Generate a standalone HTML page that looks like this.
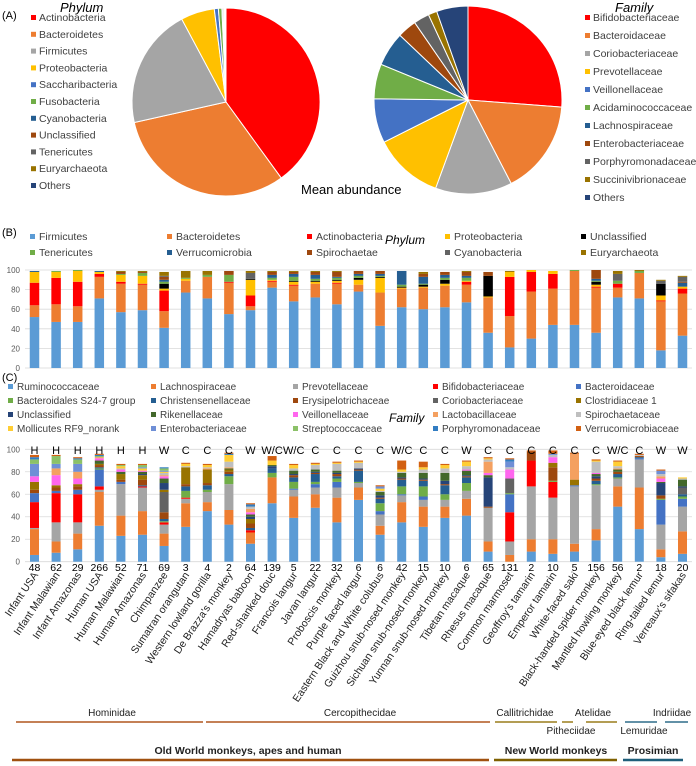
<!DOCTYPE html>
<html><head><meta charset="utf-8"><style>
html,body{margin:0;padding:0;background:#fff}
svg{display:block;font-family:"Liberation Sans",sans-serif}
</style></head><body>
<svg id="fig" width="696" height="766" viewBox="0 0 696 766" xmlns="http://www.w3.org/2000/svg">
<text x="2" y="19" font-size="11">(A)</text>
<text x="60" y="12" font-size="13" font-style="italic">Phylum</text>
<text x="615" y="12" font-size="13" font-style="italic">Family</text>
<text x="301" y="194" font-size="13">Mean abundance</text>
<text x="2" y="236" font-size="11">(B)</text>
<text x="385" y="244" font-size="12" font-style="italic">Phylum</text>
<text x="2" y="381" font-size="11">(C)</text>
<text x="389" y="422" font-size="12" font-style="italic">Family</text>
<g id="gPies"></g><g id="gB"></g><g id="gC"></g><g id="gTax"></g>
</svg>
<script>
const NS="http://www.w3.org/2000/svg";
function mk(tag,attrs,parent){const e=document.createElementNS(NS,tag);for(const k in attrs)e.setAttribute(k,attrs[k]);parent.appendChild(e);return e;}

// ---- Pie data ----
const phylumNames=["Actinobacteria","Bacteroidetes","Firmicutes","Proteobacteria","Saccharibacteria","Fusobacteria","Cyanobacteria","Unclassified","Tenericutes","Euryarchaeota","Others"];
const phylumShares=[0.40,0.315,0.207,0.058,0.007,0.006,0.002,0.002,0.001,0.001,0.001];
const phylumPieColors=["#ff0000","#ed7d31","#a5a5a5","#ffc000","#4472c4","#70ad47","#255e91","#9e480e","#636363","#997300","#264478"];
const familyNames=["Bifidobacteriaceae","Bacteroidaceae","Coriobacteriaceae","Prevotellaceae","Veillonellaceae","Acidaminococcaceae","Lachnospiraceae","Enterobacteriaceae","Porphyromonadaceae","Succinivibrionaceae","Others"];
const familyShares=[0.262,0.162,0.132,0.12,0.076,0.06,0.059,0.033,0.027,0.015,0.054];
const familyPieColors=["#ff0000","#ed7d31","#a5a5a5","#ffc000","#4472c4","#70ad47","#255e91","#9e480e","#636363","#997300","#264478"];

// ---- Panel B data ----
const categories=["Infant USA","Infant Malawian","Infant Amazonas","Human USA","Human Malawian","Human Amazonas","Chimpanzee","Sumatran orangutan","Western lowland gorilla","De Brazza's monkey","Hamadryas baboon","Red-shanked douc","Francois langur","Javan langur","Proboscis monkey","Purple faced langur","Eastern Black and White colubus","Guizhou snub-nosed monkey","Sichuan snub-nosed monkey","Yunnan snub-nosed monkey","Tibetan macaque","Rhesus macaque","Common marmoset","Geoffroy's tamarin","Emperor tamarin","White-faced saki","Black-handed spider monkey","Mantled howling monkey","Blue-eyed black lemur","Ring-tailed lemur","Verreaux's sifakas"];
const sampleCounts=["48","62","29","266","52","71","69","3","4","2","64","139","5","22","32","6","6","42","15","10","6","65","131","2","10","5","156","56","2","18","20"];
const dietLetters=["H","H","H","H","H","H","W","C","C","C","W","W/C","W/C","C","C","C","C","W/C","C","C","W","C","C","C","C","C","C","W/C","C","W","W"];
const yTicks=[0,20,40,60,80,100];
const phylaB=["Firmicutes","Bacteroidetes","Actinobacteria","Proteobacteria","Unclassified","Tenericutes","Verrucomicrobia","Spirochaetae","Cyanobacteria","Euryarchaeota"];
const colorsB=["#5b9bd5","#ed7d31","#ff0000","#ffc000","#000000","#70ad47","#255e91","#9e480e","#636363","#997300"];
const firm=[52,47,47,71,57,59,41,77,71,55,59,82,68,72,65,78,43,62,60,62,67,36,21,30,44,44,36,72,71,18,33];
const bact=[12,18,16,22,29,26,17,12,22,32,4,6,16,14,21,7,34,19,22,22,18,36,32,48,37,55,46,10,26,50,43];
const actino=[23,27,25,3,2,1,21,0,0,1,11,1,1,0,1,0,0,0,0,0,3,0,40,20,15,0,1,4,0,1,5];
const proteo=[11,6,11,2,7,8,2,2,0,0,16,1,3,2,2,5,15,1,1,2,1,1,5,2,3,0,2,0,0,5,2];
const unclassP=[0,0,0,0,0,0,5,0,0,0,1,0,1,1,1,2,1,1,2,4,0,21,0,0,0,0,3,0,0,12,0];
const teneri=[0,1,1,0,1,3,2,1,2,7,0,2,4,2,2,2,1,2,1,2,3,0,0,0,0,1,1,3,2,0,0];
const verruco=[1,0,0,1,0,0,2,0,0,0,0,3,3,4,1,2,2,14,7,3,2,0,0,0,0,0,2,0,0,0,4];
const spiro=[0,0,0,0,2,1,3,0,0,4,0,3,2,3,5,3,3,0,3,3,4,4,0,0,0,0,9,0,0,0,1];
const cyano=[0,0,0,0,0,0,1,0,0,0,6,0,0,0,0,0,0,0,0,0,0,0,0,0,0,0,0,7,0,3,5];
const eury=[0,0,0,0,1,1,4,7,4,0,2,1,1,1,1,0,0,0,2,0,1,0,1,0,0,0,0,3,1,1,1];
const seriesB=[firm,bact,actino,proteo,unclassP,teneri,verruco,spiro,cyano,eury];

// ---- Panel C data ----
const familiesC=["Ruminococcaceae","Lachnospiraceae","Prevotellaceae","Bifidobacteriaceae","Bacteroidaceae","Bacteroidales S24-7 group","Christensenellaceae","Erysipelotrichaceae","Coriobacteriaceae","Clostridiaceae 1","Unclassified","Rikenellaceae","Veillonellaceae","Lactobacillaceae","Spirochaetaceae","Mollicutes RF9_norank","Enterobacteriaceae","Streptococcaceae","Porphyromonadaceae","Verrucomicrobiaceae"];
const colorsC=["#5b9bd5","#ed7d31","#a5a5a5","#ff0000","#4472c4","#70ad47","#255e91","#9e480e","#636363","#997300","#264478","#43682b","#ff66ee","#f4a060","#bfbfbf","#ffcd33","#6f8fd6","#8cc168","#327dc2","#d26012"];
const rum=[6,8,11,32,23,24,14,31,45,33,16,52,39,48,35,55,24,35,31,39,41,9,0,9,7,9,19,49,29,4,7];
const lach=[23,10,14,30,18,21,11,21,8,13,10,23,19,12,22,11,8,18,18,10,15,9,6,11,13,7,10,18,37,7,20];
const prev=[1,17,10,2,28,21,8,4,9,23,0,0,6,6,9,4,10,6,6,6,7,30,12,47,37,51,39,7,25,22,22];
const bif=[23,26,25,3,0,1,2,1,0,0,2,0,0,0,0,0,0,0,0,0,0,0,26,23,14,0,0,0,0,0,0];
const bac=[8,2,4,15,2,0,0,0,0,0,0,0,1,3,5,0,3,1,3,0,0,0,16,0,0,1,0,0,1,22,7];
const s24=[0,0,0,1,0,0,1,6,2,7,0,4,6,2,3,1,7,7,9,5,7,0,1,0,1,0,1,1,0,1,2];
const chr=[0,0,0,1,0,1,2,4,4,2,2,4,4,7,2,10,4,6,5,8,5,0,0,0,0,0,3,3,1,0,2];
const ery=[3,3,3,2,2,5,6,2,2,2,4,0,2,1,2,1,1,1,1,1,1,1,0,8,12,0,2,2,1,3,0];
const cor=[0,0,0,0,0,0,18,0,0,0,0,0,0,0,0,0,0,0,0,0,0,0,13,0,0,0,0,0,0,0,6];
const clo=[7,2,2,1,5,4,2,15,12,2,4,0,0,0,0,0,0,0,0,0,0,0,0,0,4,5,0,0,0,0,0];
const uncF=[0,0,0,0,0,1,6,0,0,0,2,2,1,1,1,1,2,1,1,3,1,26,0,0,0,0,2,0,0,11,1];
const rik=[0,0,0,3,2,2,4,0,0,1,2,1,3,2,2,0,3,4,5,7,4,2,0,0,0,0,2,2,0,1,6];
const vei=[5,9,5,2,2,1,2,0,0,0,2,0,0,0,0,0,0,0,0,0,1,2,8,0,5,0,1,0,0,3,0];
const lac=[0,6,6,1,0,0,1,0,1,1,3,0,0,0,0,0,0,0,0,0,0,10,0,0,0,23,0,1,0,2,0];
const spi=[0,0,0,0,1,0,2,1,1,5,2,0,2,4,6,5,1,1,3,4,3,2,2,0,2,0,10,2,1,2,1];
const mol=[0,0,0,0,2,2,1,2,2,6,0,4,3,1,1,1,2,2,2,3,4,1,0,0,0,0,1,4,0,0,1];
const ent=[11,4,7,0,0,1,1,0,0,0,0,0,0,0,0,0,2,0,0,0,0,0,5,0,1,0,0,0,0,3,0];
const str=[4,7,4,1,1,2,2,0,0,0,0,0,0,0,0,0,0,0,0,0,0,0,0,0,0,0,0,0,0,0,0];
const por=[2,0,1,1,0,0,1,0,0,1,2,0,0,0,0,0,0,0,0,0,0,0,2,0,0,0,0,0,0,0,0];
const ver=[2,1,1,1,1,1,0,1,1,1,1,4,1,1,1,1,1,8,5,1,1,1,1,1,3,1,1,1,1,1,0];
const seriesC=[rum,lach,prev,bif,bac,s24,chr,ery,cor,clo,uncF,rik,vei,lac,spi,mol,ent,str,por,ver];

// ---- Pies ----
const gP=document.getElementById('gPies');
function drawPie(cx,cy,r,shares,cols,names,prefix){
  let a0=0;
  shares.forEach((s,i)=>{
    const a1=a0+s*2*Math.PI;
    const x0=cx+r*Math.sin(a0),y0=cy-r*Math.cos(a0),x1=cx+r*Math.sin(a1),y1=cy-r*Math.cos(a1);
    const p=mk('path',{d:`M${cx},${cy}L${x0},${y0}A${r},${r} 0 ${(a1-a0)>Math.PI?1:0} 1 ${x1},${y1}Z`,fill:cols[i],stroke:'#fff','stroke-width':1},gP);
    
    
    a0=a1;
  });
}
drawPie(226,102,94,phylumShares,phylumPieColors,phylumNames,'phylum');
drawPie(468,100,94,familyShares,familyPieColors,familyNames,'family');
function pieLegend(x,y0,dy,names,cols,prefix){
  names.forEach((n,i)=>{
    const y=y0+i*dy;
    const s=mk('rect',{x:x,y:y-6,width:5,height:5,fill:cols[i]},gP);
    
    
    const t=mk('text',{x:x+8,y:y,'font-size':10.5,fill:'#404040'},gP);
    t.textContent=n;
    
    
  });
}
pieLegend(31,21,16.8,phylumNames,phylumPieColors,'phylum-pie');
pieLegend(585,21,18,familyNames,familyPieColors,'family-pie');

// ---- Axis functions ----
const x0=34.5,dx=21.6;
function xPos(i){return x0+i*dx;}
const yB0=368,yBk=0.98, yC0=561.7,yCk=1.124;
function yB(v){return yB0-v*yBk;}
function yC(v){return yC0-v*yCk;}

function drawAxis(g,yf,prefix){
  yTicks.forEach(t=>{
    const l=mk('line',{x1:25,x2:692,y1:yf(t),y2:yf(t),stroke:'#d9d9d9','stroke-width':0.8},g);
    
    
    const tx=mk('text',{x:20,y:yf(t)+3,'font-size':8,'text-anchor':'end',fill:'#595959'},g);
    tx.textContent=t;
    
    
  });
}
function drawStacks(g,series,cols,yf,w,prefix,names){
  categories.forEach((c,i)=>{
    let acc=0;
    series.forEach((s,k)=>{
      const v=s[i]; if(!v) return;
      const r=mk('rect',{x:xPos(i)-w/2,y:yf(acc+v),width:w,height:yf(acc)-yf(acc+v),fill:cols[k]},g);
      
      
      acc+=v;
    });
  });
}

// ---- Panel B ----
const gB=document.getElementById('gB');
drawAxis(gB,yB,'phylum-chart');
drawStacks(gB,seriesB,colorsB,yB,9.5,'phylum',phylaB);
const legBx=[30,167,307,445,581];
phylaB.forEach((n,i)=>{
  const x=legBx[i%5], y=i<5?240:256;
  const s=mk('rect',{x:x,y:y-6,width:5,height:5,fill:colorsB[i]},gB);
  
  
  const t=mk('text',{x:x+9,y:y,'font-size':10.5,fill:'#404040'},gB);
  t.textContent=n;
  
  
});

// ---- Panel C ----
const gC=document.getElementById('gC');
drawAxis(gC,yC,'family-chart');
drawStacks(gC,seriesC,colorsC,yC,9,'family',familiesC);
const legCx=[8,151,293,433,576], legCy=[390,404,418,432];
familiesC.forEach((n,i)=>{
  const x=legCx[i%5], y=legCy[Math.floor(i/5)];
  const s=mk('rect',{x:x,y:y-6,width:5,height:5,fill:colorsC[i]},gC);
  
  
  const t=mk('text',{x:x+9,y:y,'font-size':10,fill:'#404040'},gC);
  t.textContent=n;
  
  
});
categories.forEach((c,i)=>{
  const d=mk('text',{x:xPos(i),y:454,'font-size':11,'text-anchor':'middle',fill:'#000'},gC);
  d.textContent=dietLetters[i];
  
  
  const n=mk('text',{x:xPos(i),y:571,'font-size':10.5,'text-anchor':'middle',fill:'#000'},gC);
  n.textContent=sampleCounts[i];
  
  
  const tx=xPos(i)+4, ty=575;
  const lab=mk('text',{x:tx,y:ty,'font-size':10.5,'text-anchor':'end',fill:'#222',transform:`rotate(-56 ${tx} ${ty})`},gC);
  lab.textContent=c;
  
  
});

// ---- Taxonomy brackets ----
const gT=document.getElementById('gTax');
const famLines=[[16,203,722,'#b0561e'],[206,490,722,'#b0561e'],[495,557,722,'#9a7d1c'],[562,573,722,'#9a7d1c'],[586,617,722,'#9a7d1c'],[625,657,722,'#2e6d8a'],[665,688,722,'#2e6d8a'],
  [12,489,760,'#a0500f'],[494,617,760,'#7f6000'],[623,683,760,'#1f5f7a']];
famLines.forEach(l=>{
  const e=mk('line',{x1:l[0],x2:l[1],y1:l[2],y2:l[2],stroke:l[3],'stroke-width':l[2]>750?2.5:1.5},gT);
  
  
});
const famLabels=[["Hominidae",112,716,false],["Cercopithecidae",360,716,false],["Callitrichidae",525,716,false],["Atelidae",593,716,false],["Indriidae",672,716,false],["Pitheciidae",571,734,false],["Lemuridae",644,734,false],
  ["Old World monkeys, apes and human",248,754,true],["New World monkeys",556,754,true],["Prosimian",653,754,true]];
famLabels.forEach(f=>{
  const t=mk('text',{x:f[1],y:f[2],'font-size':f[3]?10.5:10,'font-weight':f[3]?'bold':'normal','text-anchor':'middle',fill:'#222'},gT);
  t.textContent=f[0];
  
  
});
</script>
</body></html>
